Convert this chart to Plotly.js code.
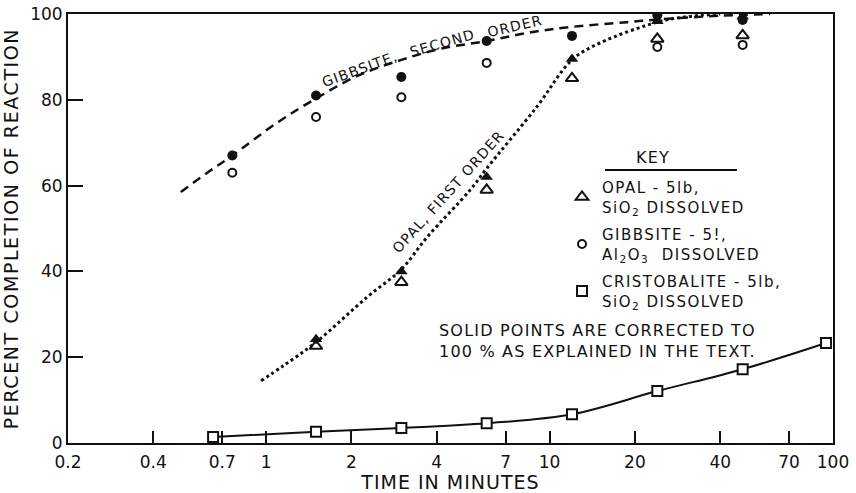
<!DOCTYPE html>
<html><head><meta charset="utf-8">
<script src="https://cdn.plot.ly/plotly-3.0.1.min.js"></script>
<style>
body{margin:0;background:#fff}
.legendtext{letter-spacing:1.5px}
.annotation-text{letter-spacing:1.2px}
.g-ytitle text{letter-spacing:1.6px}
.g-xtitle text{letter-spacing:1px}
</style></head><body><div id="chart" style="width:856px;height:493px"></div>
<script>
// Tick labels
const tickVals=[0.2,0.4,0.7,1,2,4,7,10,20,40,70,100];
const tickText=['0.2','0.4','0.7','1','2','4','7','10','20','40','70','100'];
const yTickVals=[0,20,40,60,80,100];
// Opal (triangles)
const opalOpenT=[1.5,3,6,12,24,48];
const opalOpenY=[22.6,37.5,59,85,94.2,95];
const opalSolidT=[1.5,3,6,12,24,48];
const opalSolidY=[24.2,40,62,89.5,98.3,99.4];
// Gibbsite (circles)
const gibbOpenT=[0.76,1.5,3,6,24,48];
const gibbOpenY=[63,76,80.6,88.6,92.3,92.8];
const gibbSolidT=[0.76,1.5,3,6,12,24,48];
const gibbSolidY=[67,81,85.3,93.7,94.9,99.7,98.6];
// Cristobalite (squares)
const cristT=[0.65,1.5,3,6,12,24,48,94.5];
const cristY=[1.4,2.6,3.5,4.6,6.7,12.1,17.2,23.3];
// Fitted curves
const gibbCurveT=[0.5,0.62,0.76,1.09,1.5,2.09,3,4.2,6,8.5,12,18.8,24,40,60];
const gibbCurveY=[58.5,63,67,74.6,80.3,85.5,89.3,92,93.7,95.7,97,98.1,98.7,99.6,100];
const opalCurveT=[0.96,1.15,1.5,2.27,3,3.7,5.25,6,9,12,15,24,30,40];
const opalCurveY=[14.5,18,23.5,34,40.5,48,59,64,78.3,89.3,93.2,98.1,99.3,100];

const names=['OPAL - 5lb,<br>SiO<sub>2</sub> DISSOLVED',
             'GIBBSITE - 5!,<br>Al<sub>2</sub>O<sub>3</sub>  DISSOLVED',
             'CRISTOBALITE - 5lb,<br>SiO<sub>2</sub> DISSOLVED'];

const F='DejaVu Sans, Arial, sans-serif';
const traces=[
 {x:gibbCurveT,y:gibbCurveY,mode:'lines',line:{color:'#111',width:2.5,dash:'9px,6px',shape:'spline'},showlegend:false,hoverinfo:'skip'},
 {x:opalCurveT,y:opalCurveY,mode:'lines',line:{color:'#111',width:3,dash:'3px,3px',shape:'spline'},showlegend:false,hoverinfo:'skip'},
 {x:cristT,y:cristY,mode:'lines',line:{color:'#111',width:2,shape:'spline'},showlegend:false,hoverinfo:'skip'},
 {x:opalOpenT,y:opalOpenY,mode:'markers',name:names[0],legendgroup:'a',marker:{symbol:'triangle-up-open',size:11,color:'#111',line:{width:2,color:'#111'}}},
 {x:opalSolidT,y:opalSolidY,mode:'markers',showlegend:false,marker:{symbol:'triangle-up',size:11,color:'#111'}},
 {x:gibbOpenT,y:gibbOpenY,mode:'markers',name:names[1],legendgroup:'b',marker:{symbol:'circle-open',size:8,color:'#111',line:{width:2,color:'#111'}}},
 {x:gibbSolidT,y:gibbSolidY,mode:'markers',showlegend:false,marker:{symbol:'circle',size:10,color:'#111'}},
 {x:cristT,y:cristY,mode:'markers',name:names[2],legendgroup:'c',marker:{symbol:'square',size:10,color:'#fff',line:{width:2,color:'#111'}}}
];
const px=v=>(v-68)/765, py=v=>(443-v)/429;
const layout={
 width:856,height:493,
 margin:{l:68,r:23,t:14,b:50},
 paper_bgcolor:'#fff',plot_bgcolor:'#fff',
 font:{family:F,color:'#111',size:16},
 xaxis:{type:'log',range:[Math.log10(0.2),2],tickvals:tickVals,ticktext:tickText,ticks:'inside',ticklen:12,tickwidth:2,tickcolor:'#111',
   ticklabelstandoff:3,
   showline:true,linewidth:2,linecolor:'#111',mirror:true,showgrid:false,zeroline:false,tickfont:{size:17,family:F},
   title:{text:'TIME IN MINUTES',font:{size:19,family:F},standoff:4}},
 yaxis:{range:[0,100],tickvals:yTickVals,ticks:'inside',ticklen:15,tickwidth:2,tickcolor:'#111',
   showline:true,linewidth:2,linecolor:'#111',mirror:true,showgrid:false,zeroline:false,tickfont:{size:17,family:F},
   title:{text:'PERCENT COMPLETION OF REACTION',font:{size:19,family:F},standoff:8}},
 showlegend:true,
 legend:{x:px(562),y:py(171),xanchor:'left',yanchor:'top',bgcolor:'rgba(0,0,0,0)',font:{size:15,family:F},tracegroupgap:5,valign:'middle'},
 shapes:[{type:'line',xref:'paper',yref:'paper',x0:px(605),x1:px(737),y0:py(170),y1:py(170),line:{color:'#111',width:2}}],
 annotations:[
  {xref:'paper',yref:'paper',x:px(672),y:py(158),text:'KEY',showarrow:false,font:{size:16}},
  {xref:'paper',yref:'paper',x:px(437),y:py(341),xanchor:'left',yanchor:'middle',align:'left',showarrow:false,
   text:'SOLID POINTS ARE CORRECTED TO<br>100 % AS EXPLAINED IN THE TEXT.',font:{size:16}},
  {xref:'paper',yref:'paper',x:px(360),y:py(45),text:'GIBBSITE,',textangle:-20,showarrow:false,font:{size:14}},
  {xref:'paper',yref:'paper',x:px(442),y:py(24),text:'SECOND',textangle:-16,showarrow:false,font:{size:14}},
  {xref:'paper',yref:'paper',x:px(515),y:py(10),text:'ORDER',textangle:-13,showarrow:false,font:{size:14}},
  {xref:'paper',yref:'paper',x:px(448),y:py(192),text:'OPAL, FIRST ORDER',textangle:-48,showarrow:false,font:{size:14}}
 ]
};
Plotly.newPlot('chart',traces,layout,{displayModeBar:false,staticPlot:true});
</script></body></html>
